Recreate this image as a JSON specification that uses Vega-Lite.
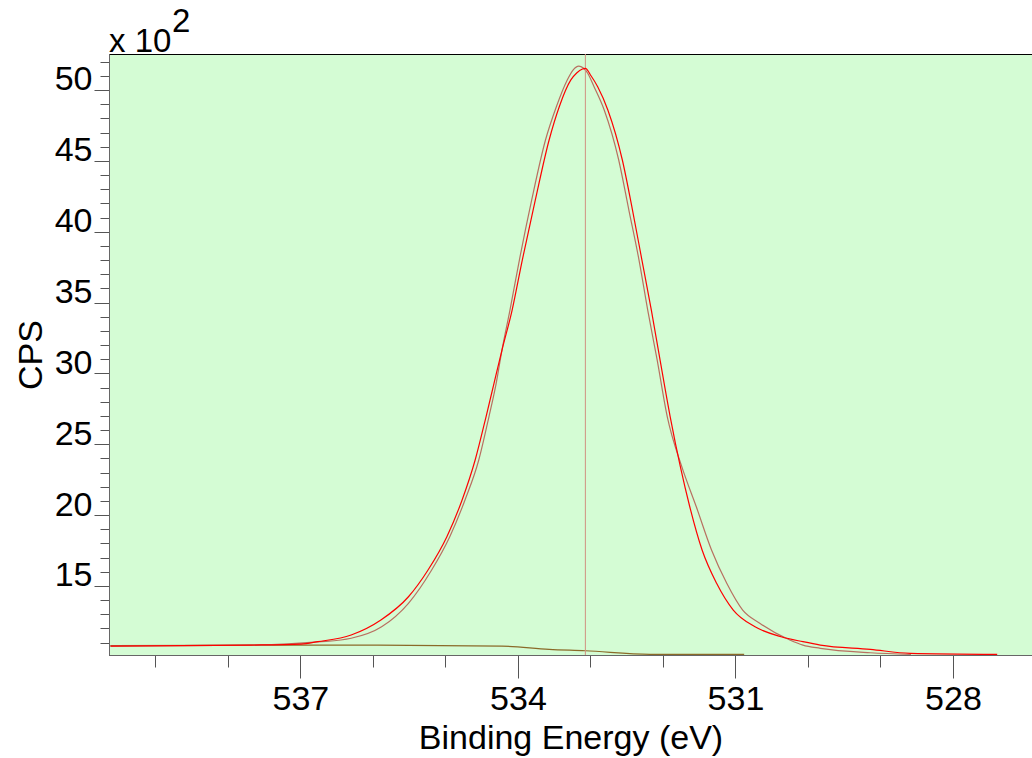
{
  "$schema": "https://vega.github.io/schema/vega-lite/v6.json",
  "width": 923,
  "height": 601,
  "autosize": {"type": "none"},
  "padding": {"left": 109, "top": 54, "right": 0, "bottom": 103},
  "background": "white",
  "config": {
    "font": "Liberation Sans",
    "view": {"fill": "#d4fcd4", "stroke": "#000000", "strokeWidth": 1}
  },
  "resolve": {"axis": {"x": "independent", "y": "independent"}},
  "datasets": {
    "red": [
      {"e": 539.62, "v": 10.76}, {"e": 537.68, "v": 10.83}, {"e": 536.99, "v": 10.90}, {"e": 536.76, "v": 11.07},
      {"e": 536.30, "v": 11.54}, {"e": 535.89, "v": 12.60}, {"e": 535.51, "v": 14.24},
      {"e": 535.24, "v": 16.13}, {"e": 534.98, "v": 18.48}, {"e": 534.77, "v": 21.07}, {"e": 534.59, "v": 23.89},
      {"e": 534.44, "v": 26.94}, {"e": 534.33, "v": 29.30}, {"e": 534.22, "v": 31.65}, {"e": 534.08, "v": 34.47},
      {"e": 533.94, "v": 38.00}, {"e": 533.76, "v": 42.24}, {"e": 533.57, "v": 46.47}, {"e": 533.43, "v": 48.82},
      {"e": 533.27, "v": 50.71}, {"e": 533.19, "v": 51.20}, {"e": 533.11, "v": 51.48}, {"e": 533.07, "v": 51.53},
      {"e": 532.99, "v": 50.99}, {"e": 532.90, "v": 50.23}, {"e": 532.76, "v": 48.59}, {"e": 532.56, "v": 45.06},
      {"e": 532.42, "v": 41.53}, {"e": 532.29, "v": 38.00}, {"e": 532.16, "v": 34.47}, {"e": 532.04, "v": 30.95},
      {"e": 531.90, "v": 26.94}, {"e": 531.76, "v": 23.42}, {"e": 531.63, "v": 20.59}, {"e": 531.46, "v": 17.54},
      {"e": 531.26, "v": 15.19}, {"e": 531.03, "v": 13.30}, {"e": 530.73, "v": 12.12}, {"e": 530.37, "v": 11.42},
      {"e": 530.07, "v": 11.07}, {"e": 529.83, "v": 10.83}, {"e": 529.14, "v": 10.53}, {"e": 528.59, "v": 10.25},
      {"e": 527.39, "v": 10.18}
    ],
    "brown": [
      {"e": 539.62, "v": 10.76}, {"e": 537.68, "v": 10.83}, {"e": 536.76, "v": 11.05}, {"e": 536.30, "v": 11.31},
      {"e": 535.88, "v": 12.12}, {"e": 535.51, "v": 13.78}, {"e": 535.19, "v": 16.13},
      {"e": 534.94, "v": 18.48}, {"e": 534.73, "v": 21.07}, {"e": 534.54, "v": 23.89}, {"e": 534.40, "v": 26.94},
      {"e": 534.30, "v": 29.30}, {"e": 534.22, "v": 31.65}, {"e": 534.11, "v": 34.47}, {"e": 533.98, "v": 38.00},
      {"e": 533.81, "v": 42.24}, {"e": 533.62, "v": 46.47}, {"e": 533.47, "v": 48.82}, {"e": 533.32, "v": 50.71},
      {"e": 533.24, "v": 51.41}, {"e": 533.16, "v": 51.69}, {"e": 533.04, "v": 51.20}, {"e": 532.95, "v": 50.23},
      {"e": 532.81, "v": 48.59}, {"e": 532.61, "v": 45.06}, {"e": 532.47, "v": 41.53}, {"e": 532.33, "v": 38.00},
      {"e": 532.21, "v": 34.47}, {"e": 532.08, "v": 30.95}, {"e": 531.94, "v": 26.94}, {"e": 531.74, "v": 23.42},
      {"e": 531.54, "v": 20.59}, {"e": 531.33, "v": 17.54}, {"e": 531.12, "v": 15.19}, {"e": 530.90, "v": 13.30},
      {"e": 530.66, "v": 12.36}, {"e": 530.25, "v": 11.19}, {"e": 530.07, "v": 10.83}, {"e": 529.83, "v": 10.60},
      {"e": 529.14, "v": 10.29}, {"e": 528.58, "v": 10.18}
    ],
    "bg": [
      {"e": 539.62, "v": 10.80}, {"e": 535.93, "v": 10.83}, {"e": 534.22, "v": 10.76}, {"e": 533.57, "v": 10.53},
      {"e": 533.07, "v": 10.43}, {"e": 532.18, "v": 10.18}, {"e": 530.88, "v": 10.18}
    ],
    "marker": [{"e": 533.07}],
    "note": [{"t": "x 10", "s": "2"}]
  },
  "layer": [
    {
      "data": {"name": "bg"},
      "mark": {"type": "line", "color": "#8a6a28", "strokeWidth": 1.2, "interpolate": "monotone"},
      "encoding": {
        "x": {
          "field": "e", "type": "quantitative",
          "scale": {"domain": [526.91, 539.64], "reverse": true, "nice": false, "zero": false},
          "axis": {
            "orient": "bottom",
            "title": "Binding Energy (eV)",
            "values": [528, 531, 534, 537],
            "format": "d",
            "grid": false,
            "tickSize": 23,
            "tickColor": "#555555",
            "domainColor": "#666666",
            "labelFontSize": 34,
            "labelColor": "#000000",
            "labelPadding": 4,
            "labelOverlap": false,
            "labelFlush": false,
            "titleFontSize": 34,
            "titleFontWeight": "normal",
            "titleColor": "#000000",
            "titlePadding": 5
          }
        },
        "y": {
          "field": "v", "type": "quantitative",
          "scale": {"domain": [10.13, 52.54], "nice": false, "zero": false},
          "axis": {
            "orient": "left",
            "title": "CPS",
            "values": [15, 20, 25, 30, 35, 40, 45, 50],
            "format": "d",
            "grid": false,
            "tickSize": 15,
            "tickColor": "#555555",
            "domainColor": "#666666",
            "labelFontSize": 34,
            "labelColor": "#000000",
            "labelBaseline": "alphabetic",
            "labelPadding": 2,
            "labelOverlap": false,
            "labelFlush": false,
            "titleFontSize": 34,
            "titleFontWeight": "normal",
            "titleColor": "#000000",
            "titlePadding": 6
          }
        }
      }
    },
    {
      "data": {"name": "brown"},
      "mark": {"type": "line", "color": "#b87060", "strokeWidth": 1.2, "interpolate": "monotone"},
      "encoding": {
        "x": {
          "field": "e", "type": "quantitative",
          "scale": {"domain": [526.91, 539.64], "reverse": true, "nice": false, "zero": false},
          "axis": {
            "orient": "bottom",
            "title": null,
            "values": [529, 530, 532, 533, 535, 536, 538, 539],
            "labels": false,
            "grid": false,
            "tickSize": 12,
            "tickColor": "#555555",
            "domainColor": "#666666"
          }
        },
        "y": {
          "field": "v", "type": "quantitative",
          "scale": {"domain": [10.13, 52.54], "nice": false, "zero": false},
          "axis": {
            "orient": "left",
            "title": null,
            "values": [11, 12, 13, 14, 16, 17, 18, 19, 21, 22, 23, 24, 26, 27, 28, 29, 31, 32, 33, 34, 36, 37, 38, 39, 41, 42, 43, 44, 46, 47, 48, 49, 51, 52],
            "labels": false,
            "grid": false,
            "tickSize": 9,
            "tickColor": "#555555",
            "domainColor": "#666666"
          }
        }
      }
    },
    {
      "data": {"name": "marker"},
      "mark": {"type": "rule", "color": "#d09080", "strokeWidth": 1},
      "encoding": {
        "x": {"field": "e", "type": "quantitative", "axis": null}
      }
    },
    {
      "data": {"name": "red"},
      "mark": {"type": "line", "color": "#ff0000", "strokeWidth": 1.2, "interpolate": "monotone"},
      "encoding": {
        "x": {"field": "e", "type": "quantitative", "axis": null},
        "y": {"field": "v", "type": "quantitative", "axis": null}
      }
    },
    {
      "data": {"name": "note"},
      "mark": {"type": "text", "align": "left", "baseline": "alphabetic", "fontSize": 33, "color": "#000000", "dy": -2},
      "encoding": {
        "text": {"field": "t"},
        "x": {"datum": 539.64, "type": "quantitative", "axis": null},
        "y": {"datum": 52.54, "type": "quantitative", "axis": null}
      }
    },
    {
      "data": {"name": "note"},
      "mark": {"type": "text", "align": "left", "baseline": "alphabetic", "fontSize": 33, "color": "#000000", "dx": 63, "dy": -22},
      "encoding": {
        "text": {"field": "s"},
        "x": {"datum": 539.64, "type": "quantitative", "axis": null},
        "y": {"datum": 52.54, "type": "quantitative", "axis": null}
      }
    }
  ]
}
